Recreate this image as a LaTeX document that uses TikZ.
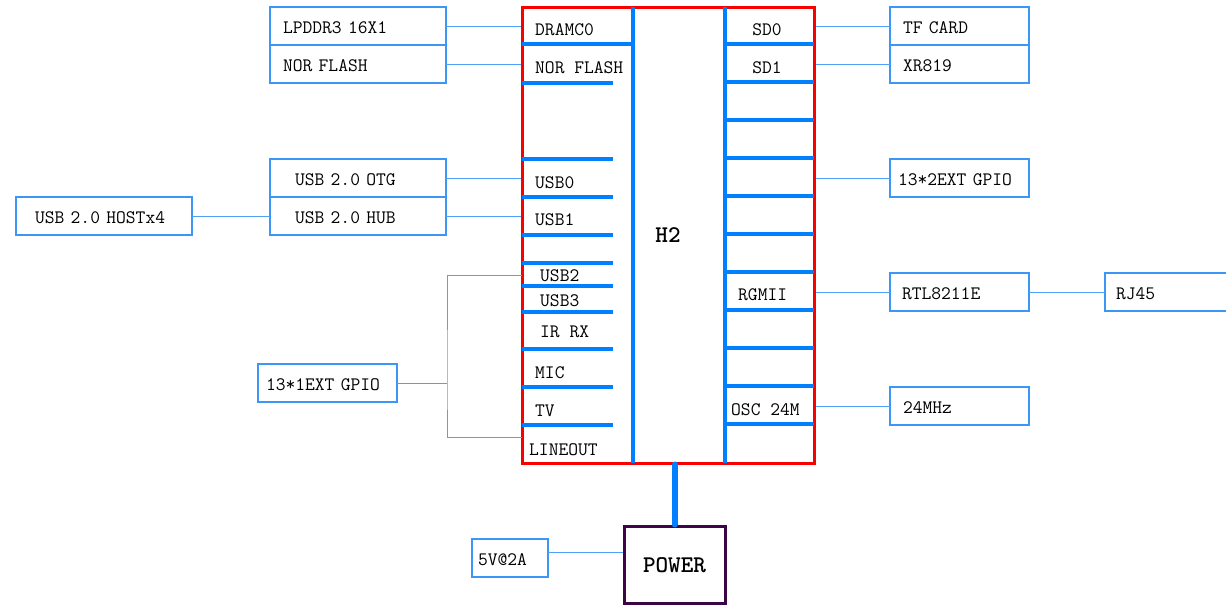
\documentclass[tikz,border=0pt]{standalone}
\usepackage{tikz}
\usetikzlibrary{positioning}

\definecolor{pinblue}{RGB}{0,128,255}
\definecolor{boxblue}{RGB}{60,150,245}
\definecolor{wireblue}{RGB}{80,160,250}
\definecolor{gpioline}{RGB}{135,135,250}
\definecolor{chipred}{RGB}{250,0,0}
\definecolor{pwrpurple}{RGB}{60,5,70}

\begin{document}
\begin{tikzpicture}[x=1pt, y=-1pt,
  font=\ttfamily\fontsize{19}{21}\selectfont,
  every node/.style={text height=15.5pt, text depth=0pt},
  dev/.style 2 args={rectangle, draw=boxblue, line width=1.3pt, outer sep=0pt, minimum height=38pt, inner ysep=0pt, align=left, text width=#1, inner xsep=#2},
  chip/.style={rectangle, draw=chipred, line width=3pt, minimum width=292pt, minimum height=456pt, inner sep=0pt, font=\ttfamily\bfseries\fontsize{24}{26}\selectfont},
  pwr/.style={rectangle, draw=pwrpurple, line width=3pt, minimum width=101pt, minimum height=77pt, font=\ttfamily\bfseries\fontsize{24}{26}\selectfont},
  pin/.style={anchor=west, inner sep=0pt},
  wire/.style={draw=wireblue, line width=1pt},
  divider/.style={draw=pinblue, line width=3.5pt},
]
  \useasboundingbox (0,0) rectangle (1226,605);

  % H2 chip
  \node[chip] (h2) at (668,235) {H2};
  \draw[divider] (633,7) -- (633,463);
  \draw[divider] (725,7) -- (725,463);
  \draw[divider] (522,44) -- (633,44);
  \foreach \y in {83,159,197,235,263,286,312,349,387,425}
    \draw[divider] (522,\y) -- (613,\y);
  \foreach \y in {44,82,...,424}
    \draw[divider] (725,\y) -- (814,\y);

  % pins, left
  \node[pin] (pdram) at (535,28) {DRAMC0};
  \node[pin] (pnor) at (535,66) {NOR FLASH};
  \node[pin] (pusb0) at (535,181) {USB0};
  \node[pin] (pusb1) at (535,218) {USB1};
  \node[pin] (pusb2) at (540,274) {USB2};
  \node[pin] (pusb3) at (540,299) {USB3};
  \node[pin] (pir) at (540,330) {IR RX};
  \node[pin] (pmic) at (535,371) {MIC};
  \node[pin] (ptv) at (535,409) {TV};
  \node[pin] (plineout) at (529,448) {LINEOUT};
  % pins, right
  \node[inner sep=0pt] (psd0) at (767,28) {SD0};
  \node[inner sep=0pt] (psd1) at (767,66) {SD1};
  \node[pin] (prgmii) at (738,293) {RGMII};
  \node[pin] (posc) at (731,408) {OSC 24M};

  % left devices
  \node[dev={150pt}{13pt}, anchor=north west] (lpddr) at (270,7) {LPDDR3 16X1};
  \node[dev={150pt}{13pt}, below=0pt of lpddr] (norf) {NOR FLASH};
  \node[dev={126pt}{25pt}, anchor=north west] (otg) at (270,159) {USB 2.0 OTG};
  \node[dev={126pt}{25pt}, below=0pt of otg] (hub) {USB 2.0 HUB};
  \node[dev={138pt}{19pt}, anchor=north west] (host) at (16,197) {USB 2.0 HOSTx4};
  \node[dev={123pt}{8pt}, anchor=north west] (gpio1) at (258,364) {13*1EXT GPIO};

  % right devices
  \node[dev={113pt}{13pt}, anchor=north west] (tfcard) at (890,7) {TF CARD};
  \node[dev={113pt}{13pt}, below=0pt of tfcard] (xr) {XR819};
  \node[dev={123pt}{8pt}, anchor=north west] (gpio2) at (890,159) {13*2EXT GPIO};
  \node[dev={115pt}{12pt}, anchor=north west] (rtl) at (890,273) {RTL8211E};
  \node[dev={118pt}{11pt}, anchor=north west] (rj) at (1105,273) {RJ45};
  \node[dev={113pt}{13pt}, anchor=north west] (xtal) at (890,387) {24MHz};

  % power
  \node[pwr] (power) at (674.5,564.5) {POWER};
  \node[dev={64pt}{6pt}, anchor=north west] (vin) at (472,539) {5V@2A};

  % connections
  \draw[wire] (lpddr.east) -- (lpddr.east -| h2.west);
  \draw[wire] (norf.east) -- (norf.east -| h2.west);
  \draw[wire] (otg.east) -- (otg.east -| h2.west);
  \draw[wire] (hub.east) -- (hub.east -| h2.west);
  \draw[wire] (host.east) -- (hub.west);
  \coordinate (gtop) at (522,275);
  \coordinate (gbot) at (522,437);
  \coordinate (gmid) at (447,383);
  \draw[draw=gpioline, line width=1pt] (gtop) -| (gmid) |- (gbot);
  \draw[wire] (gpio1.east) -- (gmid);
  \draw[wire] (tfcard.west -| h2.east) -- (tfcard.west);
  \draw[wire] (xr.west -| h2.east) -- (xr.west);
  \draw[wire] (gpio2.west -| h2.east) -- (gpio2.west);
  \draw[wire] (rtl.west -| h2.east) -- (rtl.west);
  \draw[wire] (rtl.east) -- (rj.west);
  \draw[wire] (xtal.west -| h2.east) -- (xtal.west);
  \draw[wire] ([yshift=6pt]vin.east) -- ([yshift=6pt]vin.east -| power.west);
  \draw[pinblue, line width=6pt, line cap=round] (power.north |- h2.south) -- (power.north);
\end{tikzpicture}
\end{document}
